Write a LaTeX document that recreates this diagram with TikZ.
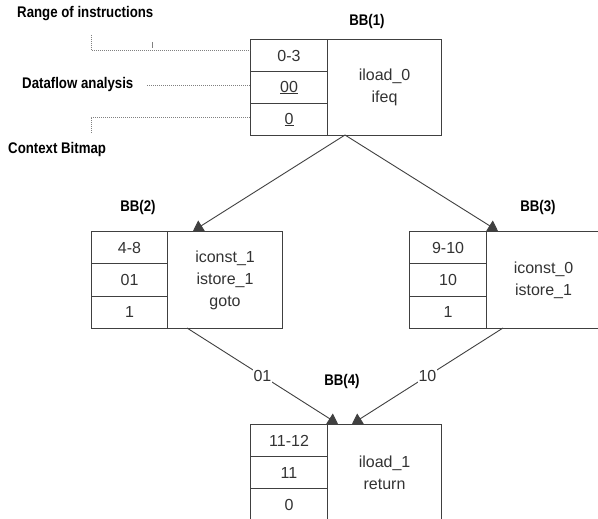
\documentclass[tikz,border=0pt]{standalone}
\usepackage{fontspec}
\setmainfont{Liberation Sans}
\newfontfamily\lblfont{Liberation Sans Bold}[FakeStretch=0.86]
\usetikzlibrary{arrows.meta}
\definecolor{linec}{HTML}{404040}
\definecolor{txtc}{HTML}{333333}
\tikzset{
  cell/.style={draw=linec, line width=1.1pt, inner sep=0pt, anchor=north west, text=txtc,
    font=\fontsize{16}{22}\selectfont, align=center},
  lbl/.style={font=\lblfont\fontsize{15.4}{17}\selectfont, inner sep=0pt, text=black},
  edge/.style={draw=linec, line width=0.9pt, -{Triangle[width=12pt,length=10pt]}},
  elbl/.style={fill=white, inner sep=1pt, text=txtc, font=\fontsize{16}{18}\selectfont},
  guide/.style={draw=gray, line width=0.8pt, dash pattern=on 0.8pt off 1.2pt}
}
\begin{document}
\begin{tikzpicture}[x=1pt,y=-1pt]
\useasboundingbox (0,0) rectangle (598,519);
\clip (0,0) rectangle (598,519);
\fill[white] (0,0) rectangle (598,519);

% BB(1)
\node[cell, minimum width=77pt, minimum height=32pt] (b1a) at (250,39) {0-3};
\node[cell, minimum width=77pt, minimum height=32pt] (b1b) at (250,71) {\underline{00}};
\node[cell, minimum width=77pt, minimum height=32pt] (b1c) at (250,103) {\underline{0}};
\node[cell, minimum width=114pt, minimum height=96pt] (b1d) at (327,39) {iload\_0\\ifeq};
\node[lbl] (l1) at (367,22) {BB(1)};

% BB(2)
\node[cell, minimum width=76pt, minimum height=32.3pt] (b2a) at (91,231) {4-8};
\node[cell, minimum width=76pt, minimum height=32.3pt] (b2b) at (91,263.3) {01};
\node[cell, minimum width=76pt, minimum height=32.3pt] (b2c) at (91,295.6) {1};
\node[cell, minimum width=115pt, minimum height=97pt] (b2d) at (167,231) {iconst\_1\\istore\_1\\goto};
\node[lbl] (l2) at (138,208) {BB(2)};

% BB(3)
\node[cell, minimum width=77pt, minimum height=32.3pt] (b3a) at (409,231) {9-10};
\node[cell, minimum width=77pt, minimum height=32.3pt] (b3b) at (409,263.3) {10};
\node[cell, minimum width=77pt, minimum height=32.3pt] (b3c) at (409,295.6) {1};
\node[cell, minimum width=114pt, minimum height=97pt] (b3d) at (486,231) {iconst\_0\\istore\_1};
\node[lbl] (l3) at (538,208) {BB(3)};

% BB(4)
\node[cell, minimum width=77pt, minimum height=32pt] (b4a) at (250,424) {11-12};
\node[cell, minimum width=77pt, minimum height=32pt] (b4b) at (250,456) {11};
\node[cell, minimum width=77pt, minimum height=32pt] (b4c) at (250,488) {0};
\node[cell, minimum width=114pt, minimum height=96pt] (b4d) at (327,424) {iload\_1\\return};
\node[lbl] (l4) at (342,382) {BB(4)};

% connection points
\coordinate (o1) at (345,135);
\coordinate (i2) at (193,231);
\coordinate (i3) at (498,231);
\coordinate (o2) at (187,328);
\coordinate (o3) at (503,328);
\coordinate (i4a) at (338,424);
\coordinate (i4b) at (352,424);

\draw[edge] (o1) -- (i2);
\draw[edge] (o1) -- (i3);
\draw[edge] (o2) -- node[elbl] (e01) {01} (i4a);
\draw[edge] (o3) -- node[elbl] (e10) {10} (i4b);

% annotations
\node[lbl, anchor=west] (ra) at (17,14) {Range of instructions};
\node[lbl, anchor=west] (da) at (22,85) {Dataflow analysis};
\node[lbl, anchor=west] (cb) at (8,150) {Context Bitmap};

\coordinate (g1a) at (91,35);
\coordinate (g1b) at (91,50);
\coordinate (g1c) at (250,50);
\coordinate (t1a) at (152,42);
\coordinate (t1b) at (152,48);
\coordinate (g2a) at (147,85);
\coordinate (g3a) at (91,133);
\coordinate (g3b) at (91,117);
\coordinate (g3c) at (250,117);
\draw[guide] (g1a) -- (g1b) -- (g1c);
\draw[draw=gray, line width=0.6pt] (t1a) -- (t1b);
\draw[guide] (g2a) -- (g2a -| b1b.west);
\draw[guide] (g3a) -- (g3b) -- (g3c);
\end{tikzpicture}
\end{document}
